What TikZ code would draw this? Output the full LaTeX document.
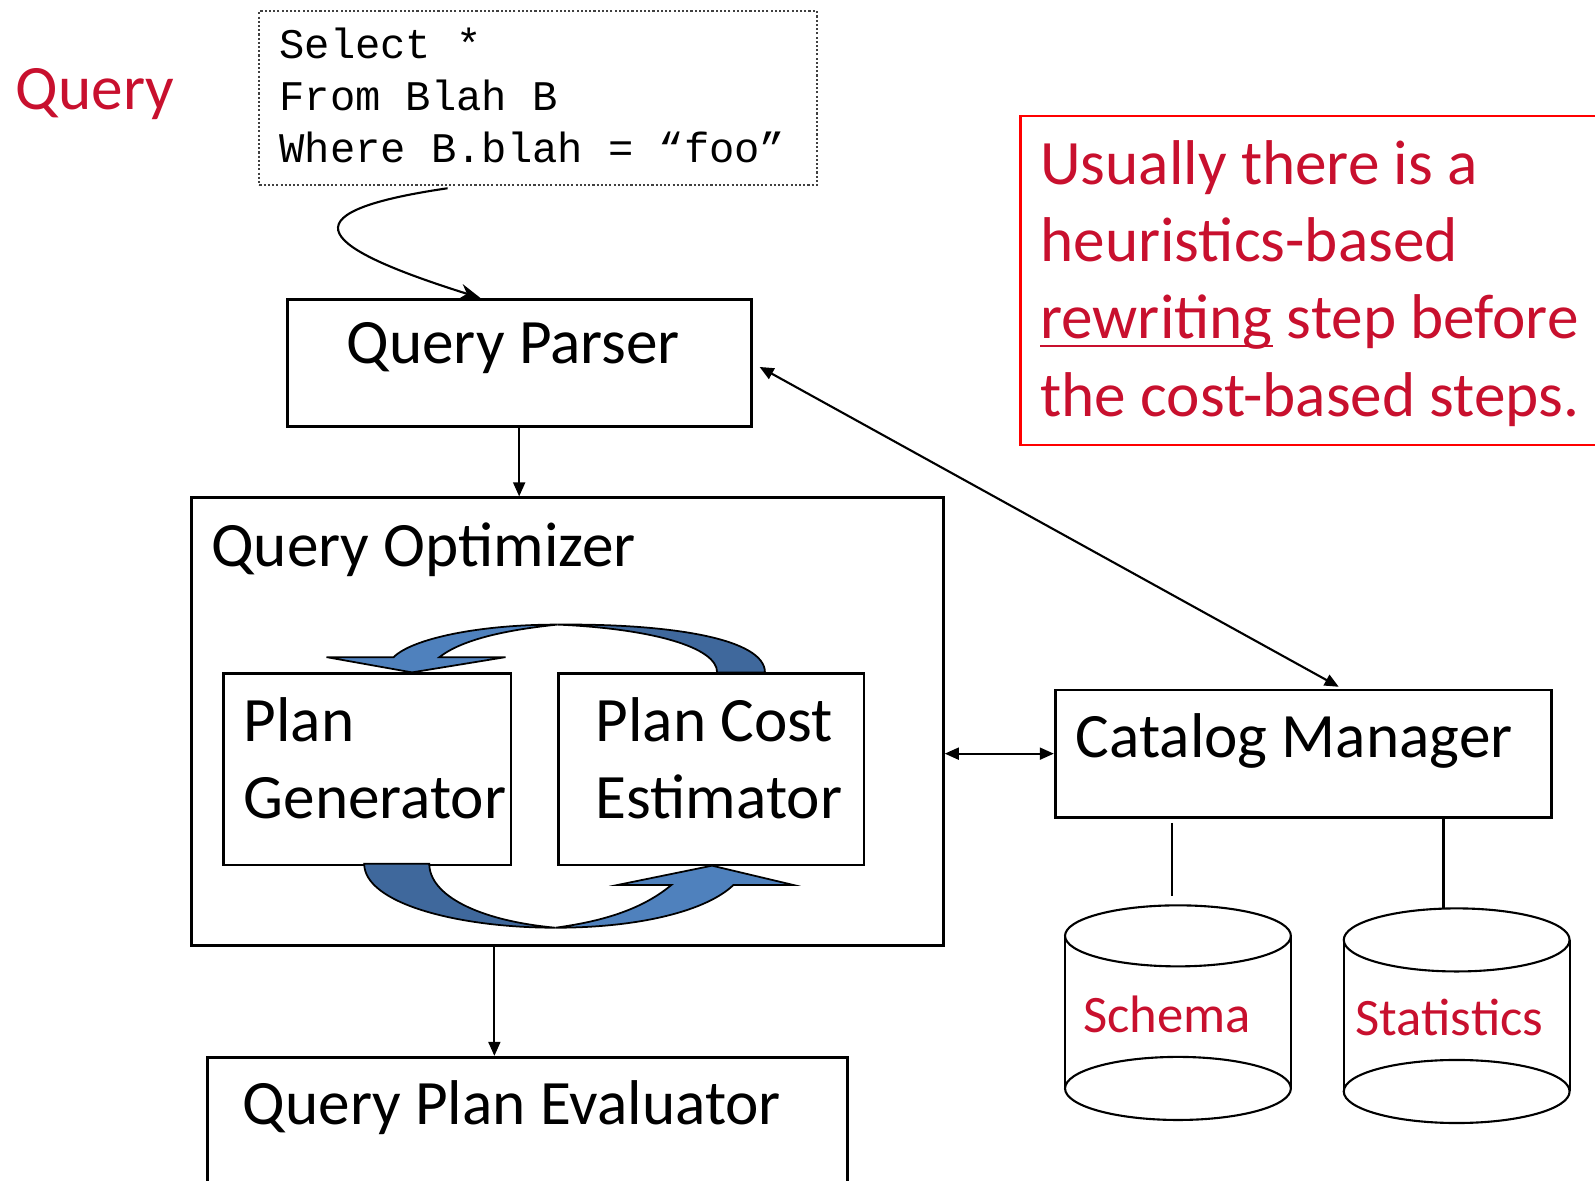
\documentclass[tikz,border=0pt]{standalone}
\usepackage{fontspec}
\setmainfont{Carlito}
\newfontfamily\sqlfont{Liberation Mono}
\usetikzlibrary{arrows.meta,calc}

\definecolor{qred}{RGB}{200,16,46}
\definecolor{arrlight}{RGB}{79,129,189}
\definecolor{arrdark}{RGB}{63,104,156}

\newlength\pu
\setlength\pu{0.010172cm}
\newcommand{\bigtxt}{\fontsize{18pt}{22pt}\selectfont}
\newcommand{\midtxt}{\fontsize{15pt}{18pt}\selectfont}
\newcommand{\undr}[1]{\setbox0\hbox{#1}\rlap{\rule[-2.4pt]{\wd0}{0.6pt}}#1}

\tikzset{
  box/.style={draw=black, line width=0.8pt, anchor=north west, inner sep=0pt},
  lbl/.style={anchor=base west, inner sep=0pt, font=\bigtxt, align=left},
  link/.style={line width=0.6pt, -{Triangle[length=4pt,width=3.4pt]}},
  twolink/.style={line width=0.6pt, {Triangle[length=4pt,width=3.4pt]}-{Triangle[length=4pt,width=3.4pt]}},
  blueflow/.style={draw=black, line width=0.5pt},
}

\begin{document}
\begin{tikzpicture}[x=\pu, y=-\pu]
    \useasboundingbox (0,0) rectangle (1568,1161);
    \clip (0,0) rectangle (1568,1161);

    % query text
    \node[lbl, text=qred] (querylbl) at (15,108) {Query};
    \node[box, draw=black!75, line width=0.6pt, dash pattern=on 0.6pt off 0.6pt,
          minimum width=548*\pu, minimum height=171*\pu] (sql) at (254,10) {};
    % multi-line labels sit on their last baseline
    \node[lbl, font=\sqlfont\fontsize{12pt}{14.8pt}\selectfont] (sqltxt) at (274,160)
          {Select *\\From Blah B\\Where B.blah = “foo”};

    % parser
    \node[box, minimum width=456*\pu, minimum height=125*\pu] (parser) at (281,293) {};
    \node[lbl] (parserlbl) at (340,357) {Query Parser};

    % optimizer
    \node[box, minimum width=739*\pu, minimum height=440*\pu] (optim) at (187,488) {};
    \node[lbl] (optimlbl) at (207,557) {Query Optimizer};
    \node[box, minimum width=283*\pu, minimum height=188*\pu] (gen) at (218,661) {};
    \node[lbl] (genlbl) at (239,805) {Plan\\Generator};
    \node[box, minimum width=300*\pu, minimum height=188*\pu] (cost) at (548,661) {};
    \node[lbl] (costlbl) at (585,805) {Plan Cost\\Estimator};

    % top loop arrow
    \draw[blueflow, fill=arrdark] (752,661) .. controls (752,628) and (660,613) .. (548,614)
          .. controls (640,618) and (705,636) .. (705,661) -- cycle;
    \draw[blueflow, fill=arrlight] (548,614) .. controls (470,614) and (405,628) .. (387,646)
          -- (321,646) -- (405,661) -- (497,646) -- (432,646)
          .. controls (455,628) and (500,619) .. (548,614) -- cycle;
    % bottom loop arrow
    \draw[blueflow, fill=arrdark] (358,849) .. controls (358,888) and (450,912) .. (546,912)
          .. controls (470,905) and (422,880) .. (422,849) -- cycle;
    \draw[blueflow, fill=arrlight] (546,912) .. controls (630,912) and (695,895) .. (721,870)
          -- (780,870) -- (700,851) -- (607,870) -- (660,870)
          .. controls (630,895) and (590,906) .. (546,912) -- cycle;

    % catalog
    \node[box, minimum width=488*\pu, minimum height=125*\pu] (catalog) at (1036,677) {};
    \node[lbl] (cataloglbl) at (1057,745) {Catalog Manager};

    % evaluator
    \node[box, minimum width=629*\pu, minimum height=200*\pu] (eval) at (203,1038) {};
    \node[lbl] (evallbl) at (238,1105) {Query Plan Evaluator};

    % note
    \node[box, draw=red, line width=0.7pt, minimum width=640*\pu, minimum height=323*\pu] (note) at (1002,113) {};
    \node[lbl, text=qred] (notelbl) at (1022,409)
          {Usually there is a\\heuristics-based\\\undr{rewriting} step before\\the cost-based steps.};

    % arrows
    \draw[line width=0.6pt, -{Stealth[length=6pt,width=4.5pt]}] ($(sql.south west)+(186,2)$)
          .. controls (270,210) and (320,245) .. ($(parser.north)+(-38,0)$);
    \draw[link] (parser.south) -- (parser.south |- optim.north);
    \draw[twolink, shorten <=2.3pt, shorten >=1.1pt] (parser.east) -- ($(catalog.north)+(38,0)$);
    \draw[twolink] (optim.east |- catalog.west) -- (catalog.west);
    \draw[link] ($(optim.south west)+(299,0)$) -- ($(eval.north west)+(283,0)$);

    % stores
    \coordinate (schematop) at (1152,881);
    \coordinate (statstop) at (1419,893);
    \draw[line width=0.6pt, shorten <=1.2pt] (catalog.south -| schematop) -- (schematop);
    \draw[line width=0.6pt] (catalog.south -| statstop) -- (statstop);

    \draw[line width=0.6pt] (1158,920) ellipse [x radius=111, y radius=30];
    \draw[line width=0.6pt] (1158,1070) ellipse [x radius=111, y radius=31];
    \draw[line width=0.6pt] (1047,920) -- (1047,1070) (1269,920) -- (1269,1070);
    \node[lbl, font=\midtxt, text=qred] (schema) at (1064,1015) {Schema};

    \draw[line width=0.6pt] (1432,924) ellipse [x radius=111, y radius=31];
    \draw[line width=0.6pt] (1432,1073) ellipse [x radius=111, y radius=31];
    \draw[line width=0.6pt] (1321,924) -- (1321,1073) (1543,924) -- (1543,1073);
    \node[lbl, font=\midtxt, text=qred] (stats) at (1332,1018) {Statistics};
\end{tikzpicture}
\end{document}
